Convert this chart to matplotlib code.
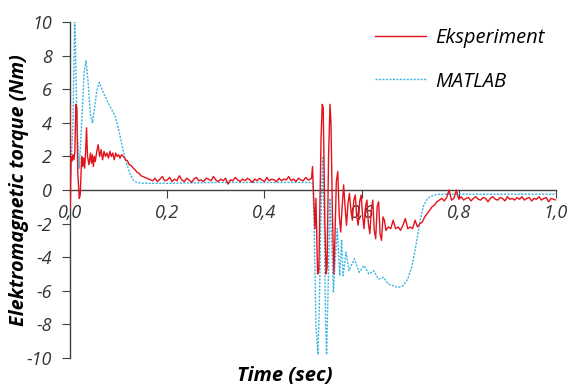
import matplotlib
matplotlib.use("Agg")
import matplotlib.pyplot as plt
import numpy as np

plt.rcParams['font.family'] = ['Open Sans', 'DejaVu Sans']

# --- Eksperiment (red) ---
# start-up transient, read point by point
red_t1 = [0.000, 0.0005, 0.002, 0.004, 0.006, 0.008, 0.010, 0.012, 0.014, 0.016, 0.019,
          0.021, 0.024, 0.026, 0.028, 0.030, 0.032, 0.034, 0.036, 0.039, 0.042,
          0.044, 0.046, 0.048, 0.050, 0.052, 0.055, 0.058, 0.061, 0.064, 0.067,
          0.070, 0.073, 0.076, 0.079, 0.082, 0.085, 0.088, 0.091, 0.094, 0.097,
          0.100, 0.103, 0.106, 0.110, 0.114, 0.118, 0.122, 0.126, 0.130, 0.134,
          0.138, 0.142, 0.146, 0.150, 0.154, 0.158, 0.162, 0.166]
red_y1 = [5.0, -1.1, 2.0, 1.7, 2.1, 1.8, 2.3, 5.1, 4.9, 1.0, -0.5,
          -0.3, 2.0, 1.4, 1.9, 1.3, 2.2, 3.7, 2.0, 1.5, 2.2,
          1.6, 2.1, 1.4, 2.0, 1.7, 2.3, 2.7, 2.0, 2.4, 1.8,
          2.3, 2.0, 2.2, 1.9, 2.3, 2.0, 2.2, 1.8, 2.2, 2.0,
          2.1, 1.9, 2.1, 2.0, 1.8, 1.75, 1.5, 1.45, 1.3, 1.2,
          1.05, 1.0, 0.85, 0.8, 0.75, 0.7, 0.65, 0.6]
# steady part 0.17 .. 0.495
red_t2 = np.round(np.arange(0.170, 0.4951, 0.005), 3)
red_y2 = [0.55, 0.70, 0.50, 0.65, 0.80, 0.55, 0.60, 0.75, 0.50, 0.65,
          0.55, 0.85, 0.60, 0.50, 0.70, 0.60, 0.45, 0.65, 0.75, 0.55,
          0.60, 0.50, 0.70, 0.65, 0.55, 0.80, 0.60, 0.50, 0.65, 0.55,
          0.70, 0.35, 0.60, 0.55, 0.75, 0.60, 0.50, 0.65, 0.55, 0.70,
          0.60, 0.45, 0.65, 0.55, 0.70, 0.60, 0.50, 0.75, 0.55, 0.65,
          0.60, 0.50, 0.70, 0.55, 0.65, 0.60, 0.80, 0.55, 0.65, 0.50,
          0.70, 0.60, 0.55, 0.75, 0.60, 0.65]
# switching transient 0.497 .. 0.65
red_t3 = [0.497, 0.499, 0.501, 0.504, 0.506, 0.5095, 0.512, 0.5165, 0.519, 0.521,
          0.5245, 0.527, 0.529, 0.532, 0.535, 0.537, 0.540, 0.543, 0.545, 0.548,
          0.551, 0.554, 0.557, 0.560, 0.563, 0.566, 0.569, 0.572, 0.575, 0.578,
          0.581, 0.584, 0.587, 0.590, 0.593, 0.596, 0.599, 0.602, 0.605, 0.608,
          0.611, 0.614, 0.617, 0.620, 0.623, 0.626, 0.629, 0.632, 0.635, 0.638,
          0.641, 0.644, 0.647]
red_y3 = [0.7, 1.4, -0.2, -2.3, -0.5, -5.0, -4.8, 3.0, 5.1, 4.9,
          -2.0, -5.0, -4.6, 2.0, 5.1, 4.0, -1.5, -5.0, -3.0, 0.5,
          1.1, -1.5, -2.5, -1.0, 0.3, -1.0, -2.1, -0.8, -0.2, -1.2,
          -1.8, -0.6, -0.3, -1.6, -2.1, -0.7, -0.3, -1.5, -2.3, -1.0,
          -0.6, -2.0, -2.6, -1.2, -0.6, -2.4, -2.9, -1.0, -0.7, -2.6,
          -3.0, -1.6, -1.8]
# low plateau and recovery 0.65 .. 0.76
red_t4 = np.round(np.arange(0.650, 0.7551, 0.005), 3)
red_y4 = [-2.4, -2.2, -2.3, -1.8, -2.3, -2.2, -2.4, -2.1, -1.7, -2.3,
          -2.2, -2.3, -1.8, -2.2, -2.0, -1.9, -1.6, -1.4, -1.2, -1.0,
          -0.9, -0.7]
# steady end 0.76 .. 1.0
red_t5 = np.round(np.arange(0.760, 1.0001, 0.005), 3)
red_y5 = [-0.6, -0.5, -0.65, -0.45, 0.0, -0.6, -0.5, 0.0, -0.55, -0.4,
          -0.6, -0.5, -0.45, -0.65, -0.5, -0.4, -0.55, -0.6, -0.45, -0.5,
          -0.7, -0.5, -0.4, -0.55, -0.6, -0.45, -0.5, -0.65, -0.4, -0.55,
          -0.5, -0.6, -0.45, -0.55, -0.4, -0.6, -0.5, -0.45, -0.65, -0.5,
          -0.55, -0.4, -0.6, -0.5, -0.45, -0.7, -0.5, -0.55, -0.6]

red_t = np.concatenate([red_t1, red_t2, red_t3, red_t4, red_t5])
red_y = np.concatenate([red_y1, red_y2, red_y3, red_y4, red_y5])

# --- MATLAB (blue dotted) ---
blue_t = [0.000, 0.003, 0.006, 0.0095, 0.011, 0.014, 0.019, 0.024, 0.029, 0.033,
          0.037, 0.042, 0.046, 0.050, 0.055, 0.060, 0.070, 0.080, 0.093, 0.100,
          0.109, 0.116, 0.123, 0.130, 0.137, 0.150, 0.200, 0.300, 0.400, 0.497,
          0.500, 0.503, 0.506, 0.510, 0.513, 0.516, 0.520, 0.523, 0.526, 0.528,
          0.531, 0.535, 0.539, 0.542, 0.545, 0.550, 0.555, 0.559, 0.562, 0.568,
          0.574, 0.585, 0.595, 0.605, 0.615, 0.625, 0.635, 0.645, 0.655, 0.665,
          0.675, 0.685, 0.695, 0.703, 0.710, 0.716, 0.722, 0.728, 0.734, 0.740,
          0.750, 0.760, 1.000]
blue_y = [0.0, 2.0, 4.0, 10.0, 9.0, 4.0, 1.3, 4.0, 7.0, 7.7,
          6.5, 4.5, 4.0, 4.8, 5.9, 6.4, 5.7, 5.1, 4.4, 3.6,
          2.4, 1.6, 1.0, 0.6, 0.45, 0.4, 0.4, 0.45, 0.45, 0.45,
          0.3, -3.0, -8.0, -9.8, -7.0, -2.0, 2.0, -2.0, -8.0, -9.8,
          -6.0, -0.5, -3.5, -6.1, -4.5, -2.3, -5.1, -3.0, -5.1, -3.7,
          -4.8, -4.1, -4.9, -4.5, -5.0, -4.8, -5.3, -5.2, -5.6, -5.7,
          -5.8, -5.7, -5.3, -4.6, -3.6, -2.6, -1.6, -0.9, -0.6, -0.4,
          -0.3, -0.25, -0.25]

x_ticks = [0.0, 0.2, 0.4, 0.6, 0.8, 1.0]
x_labels = ['0,0', '0,2', '0,4', '0,6', '0,8', '1,0']
y_ticks = list(range(-10, 11, 2))

fig = plt.figure(figsize=(5.73, 3.88), dpi=100)
ax = fig.add_axes([0.1222, 0.0773, 0.8481, 0.866])

ax.plot(red_t, red_y, color='#e3121b', lw=1.0, label='Eksperiment', zorder=3)
ax.plot(blue_t, blue_y, color='#3ab5e3', lw=1.0, ls=(0, (1.5, 1)), label='MATLAB', zorder=2)

ax.set_xlim(0, 1.0)
ax.set_ylim(-10, 10)
ax.spines['top'].set_visible(False)
ax.spines['right'].set_visible(False)
ax.spines['bottom'].set_position(('data', 0))
for s in ['left', 'bottom']:
    ax.spines[s].set_color('#404040')
    ax.spines[s].set_linewidth(1.0)

ax.set_xticks(x_ticks)
ax.set_xticklabels(x_labels, fontsize=13, style='italic', color='#333333')
ax.set_yticks(y_ticks)
ax.set_yticklabels([str(v) for v in y_ticks], fontsize=13, style='italic', color='#333333')
ax.tick_params(axis='x', direction='out', length=6, pad=4, color='#404040')
ax.tick_params(axis='y', direction='out', length=6, pad=7, color='#404040')

fig.text(0.497, 0.030, 'Time (sec)', fontsize=14.5, fontweight='bold', style='italic',
         ha='center', va='center')
fig.text(0.034, 0.51, 'Elektromagnetic torque (Nm)', fontsize=14.2, fontweight='bold',
         style='italic', rotation=90, ha='center', va='center')

leg = ax.legend(loc='upper left', bbox_to_anchor=(0.591, 1.035), frameon=False,
                fontsize=14.5, handlelength=2.5, labelspacing=1.15, handletextpad=0.45)
for txt in leg.get_texts():
    txt.set_style('italic')

fig.savefig('out.png', dpi=100)
